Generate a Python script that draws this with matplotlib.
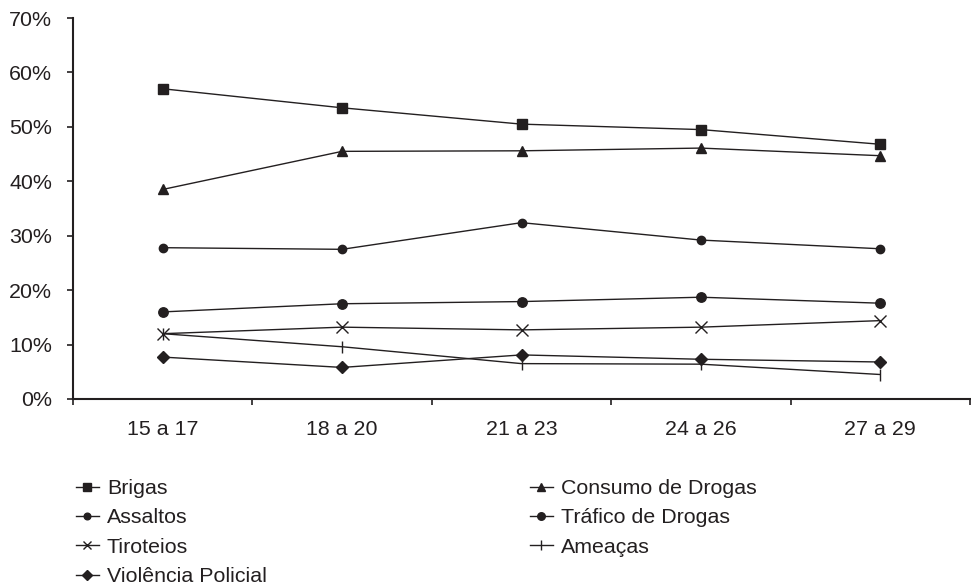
import matplotlib
matplotlib.use("Agg")
import matplotlib.pyplot as plt
from matplotlib.ticker import FixedLocator, PercentFormatter

plt.rcParams['font.family'] = ['Liberation Sans', 'DejaVu Sans']

categories = ["15 a 17", "18 a 20", "21 a 23", "24 a 26", "27 a 29"]
brigas = [57.0, 53.5, 50.5, 49.5, 46.8]
consumo = [38.5, 45.5, 45.6, 46.1, 44.7]
assaltos = [27.8, 27.5, 32.4, 29.2, 27.6]
trafico = [16.0, 17.5, 17.9, 18.7, 17.6]
tiroteios = [12.0, 13.2, 12.7, 13.2, 14.4]
ameacas = [12.0, 9.6, 6.5, 6.4, 4.5]
violencia = [7.7, 5.8, 8.1, 7.3, 6.8]
yticks = [0, 10, 20, 30, 40, 50, 60, 70]

col = '#231f20'
fs = 15.4
fig = plt.figure(figsize=(9.71, 5.87), dpi=100)
ax = fig.add_axes([73/971, 1-399/587, 897/971, 381/587])
x = list(range(len(categories)))
lw = 1.0
kw = dict(color=col, lw=lw)
h_brigas, = ax.plot(x, brigas, marker='s', ms=7.5, mfc=col, mec=col, label='Brigas', **kw)
h_consumo, = ax.plot(x, consumo, marker='^', ms=6.5, mfc=col, mec=col, label='Consumo de Drogas', **kw)
h_assaltos, = ax.plot(x, assaltos, marker='o', ms=6, mfc=col, mec=col, label='Assaltos', **kw)
h_trafico, = ax.plot(x, trafico, marker='o', ms=6.8, mfc=col, mec=col, label='Tráfico de Drogas', **kw)
h_tiro, = ax.plot(x, tiroteios, marker='x', ms=8, mew=1.0, mec=col, label='Tiroteios', **kw)
h_amea, = ax.plot(x, ameacas, marker='|', ms=9, mew=1.0, mec=col, label='Ameaças', **kw)
h_viol, = ax.plot(x, violencia, marker='D', ms=6.5, mfc=col, mec=col, label='Violência Policial', **kw)

ax.set_xlim(-0.5, len(categories) - 0.5)
ax.set_ylim(0, 70)
ax.set_yticks(yticks)
ax.yaxis.set_major_formatter(PercentFormatter(decimals=0))
ax.set_xticks(x)
ax.set_xticklabels(categories)
ax.xaxis.set_minor_locator(FixedLocator([i - 0.5 for i in range(len(categories) + 1)]))
ax.tick_params(axis='x', which='major', length=0, pad=15, labelsize=fs, colors=col)
ax.tick_params(axis='x', which='minor', length=4, width=1.2, direction='out', color=col)
ax.tick_params(axis='y', length=4, width=1.2, direction='out', pad=11, labelsize=fs, colors=col)
for s in ['top', 'right']:
    ax.spines[s].set_visible(False)
for s in ['left', 'bottom']:
    ax.spines[s].set_linewidth(1.5)
    ax.spines[s].set_color(col)
ax.spines['bottom'].set_bounds(-0.5, len(categories) - 0.5)

lkw = dict(frameon=False, fontsize=fs, handlelength=1.07, handletextpad=0.37,
           labelspacing=0.49, borderpad=0, borderaxespad=0, loc='upper left', markerscale=0.8)
leg1 = fig.legend(handles=[h_brigas, h_assaltos, h_tiro, h_viol], bbox_to_anchor=(76/971, 1-479/587), **lkw)
leg2 = fig.legend(handles=[h_consumo, h_trafico, h_amea], bbox_to_anchor=(530/971, 1-479/587), **lkw)
for leg in (leg1, leg2):
    for t in leg.get_texts():
        t.set_color(col)

fig.savefig('out.png', dpi=100)
